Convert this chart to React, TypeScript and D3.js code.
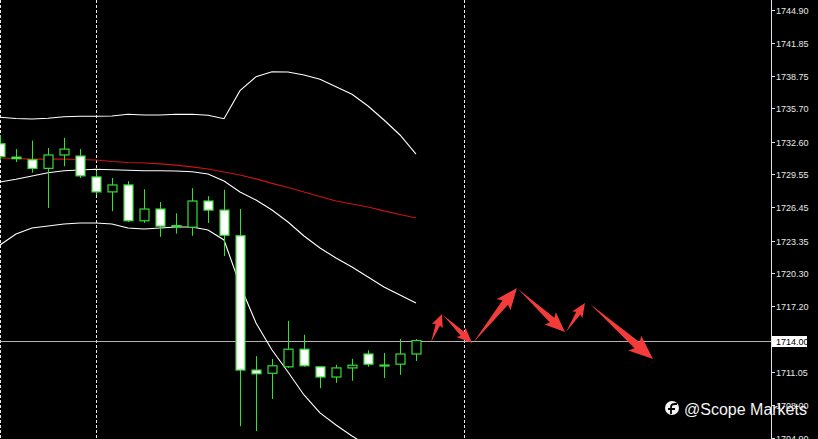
import * as d3 from "d3";

// OHLC per bar (bar index = position on the time axis)
const opens = [1732.4, 1731.15, 1730.9, 1730.1, 1731.35, 1731.25, 1729.3, 1727.9, 1728.55, 1725.2, 1726.3, 1724.75, 1724.6, 1727.05, 1726.2, 1723.8, 1711.25, 1710.95, 1711.55, 1713.2, 1711.55, 1710.6, 1711.45, 1712.75, 1711.72, 1711.8, 1712.75];
const highs = [1733.2, 1731.9, 1732.7, 1732.0, 1732.95, 1731.9, 1729.85, 1729.2, 1728.9, 1728.15, 1726.95, 1725.9, 1728.25, 1727.5, 1728.1, 1726.3, 1712.55, 1712.3, 1715.85, 1714.55, 1711.55, 1711.75, 1712.3, 1713.1, 1712.85, 1714.15, 1714.15];
const lows = [1730.9, 1730.7, 1729.7, 1726.4, 1730.3, 1729.2, 1727.6, 1726.1, 1725.1, 1725.0, 1723.7, 1724.0, 1723.8, 1725.0, 1721.9, 1706.0, 1705.55, 1708.55, 1711.45, 1711.55, 1709.55, 1710.05, 1710.25, 1711.55, 1710.5, 1710.8, 1712.1];
const closes = [1731.2, 1731.0, 1730.1, 1731.35, 1731.9, 1729.4, 1727.9, 1728.55, 1725.2, 1726.3, 1724.7, 1724.7, 1727.05, 1726.2, 1723.85, 1711.25, 1710.9, 1711.65, 1713.2, 1711.65, 1710.6, 1711.45, 1711.7, 1711.8, 1711.7, 1712.75, 1714.0];

// Bollinger bands
const bbUpper = [1734.87, 1734.76, 1734.71, 1734.78, 1734.93, 1734.97, 1734.97, 1734.99, 1735.15, 1735.09, 1735.09, 1735.15, 1735.15, 1735.06, 1734.74, 1737.36, 1738.67, 1739.13, 1739.11, 1738.83, 1738.42, 1737.73, 1737.02, 1735.93, 1734.62, 1733.22, 1731.44];
const bbMiddle = [1728.83, 1729.08, 1729.39, 1729.69, 1729.88, 1729.95, 1730.01, 1729.97, 1729.92, 1729.88, 1729.88, 1729.85, 1729.79, 1729.57, 1728.92, 1727.89, 1727.14, 1726.21, 1725.09, 1723.78, 1722.66, 1721.72, 1720.88, 1719.95, 1719.01, 1718.26, 1717.52];
const bbLower = [1722.94, 1723.97, 1724.53, 1724.71, 1724.9, 1724.99, 1724.99, 1724.9, 1724.53, 1724.43, 1724.53, 1724.62, 1724.62, 1724.34, 1723.41, 1719.2, 1715.65, 1713.12, 1711.07, 1708.92, 1707.24, 1706.11, 1705.09, 1704.15, 1703.59, 1703.31, 1703.59];

// slow moving average (red)
const maSlow = [1731.07, 1731.02, 1730.97, 1730.97, 1730.97, 1730.93, 1730.88, 1730.74, 1730.65, 1730.6, 1730.51, 1730.41, 1730.23, 1730.04, 1729.76, 1729.48, 1729.11, 1728.69, 1728.31, 1727.89, 1727.47, 1727.05, 1726.77, 1726.49, 1726.12, 1725.79, 1725.46];

const priceTicks = ["1744.90", "1741.85", "1738.75", "1735.70", "1732.60", "1729.55", "1726.45", "1723.35", "1720.30", "1717.20", "1711.05", "1708.00", "1704.90"];
const bidPrice = 1714.0;
const separators = [0, 6, 29];

// projected path drawn as arrows: [bar, price] start -> end
const arrowFrom: [number, number][] = [[26.94, 1713.87], [27.69, 1716.4], [29.56, 1713.78], [32.38, 1718.83], [35.38, 1714.81], [36.88, 1717.42]];
const arrowTo: [number, number][] = [[27.63, 1716.49], [29.5, 1713.78], [32.31, 1718.92], [35.31, 1714.81], [36.56, 1717.52], [40.81, 1712.28]];

const W = 818;
const H = 439;
const plotRight = 771;

const x = d3.scaleLinear().domain([0, 48.1875]).range([0, plotRight]);
const y = d3.scaleLinear().domain([1704.9, 1744.9]).range([438, 10]);

const green = "#35e035";

function arrowPath(a: [number, number], b: [number, number]) {
  const x0 = x(a[0]), y0 = y(a[1]);
  const x1 = x(b[0]), y1 = y(b[1]);
  const L = Math.hypot(x1 - x0, y1 - y0);
  const ux = (x1 - x0) / L, uy = (y1 - y0) / L;
  const nx = -uy, ny = ux;
  const headLen = 6 + 0.18 * L;
  const headW = 0.42 * headLen + 1;
  const shaftW = headW * 0.4;
  const bx = x1 - ux * headLen, by = y1 - uy * headLen;
  const back = headLen * 0.15;
  const pts = [
    [x0, y0],
    [bx + nx * shaftW, by + ny * shaftW],
    [bx - ux * back + nx * headW, by - uy * back + ny * headW],
    [x1, y1],
    [bx - ux * back - nx * headW, by - uy * back - ny * headW],
    [bx - nx * shaftW, by - ny * shaftW],
  ];
  return "M" + pts.map((p) => p.join(",")).join("L") + "Z";
}

export default function App() {
  const line = d3
    .line<number>()
    .x((_, i) => x(i))
    .y((d) => y(d));

  return (
    <svg
      width={W}
      height={H}
      style={{ position: "absolute", left: 0, top: 0, display: "block", background: "#000" }}
    >
      <defs>
        <clipPath id="plot">
          <rect x={0} y={0} width={plotRight} height={H} />
        </clipPath>
      </defs>
      <rect width={W} height={H} fill="#000" />

      <g clipPath="url(#plot)">
        {separators.map((s) => (
          <line key={s} x1={x(s) + 0.5} x2={x(s) + 0.5} y1={0} y2={H} stroke="#e8e8e8" strokeDasharray="3,2" />
        ))}

        <line x1={0} x2={plotRight} y1={Math.round(y(bidPrice)) + 0.5} y2={Math.round(y(bidPrice)) + 0.5} stroke="#b4b4b4" />

        <path d={line(bbUpper) ?? ""} fill="none" stroke="#fff" strokeWidth={1.1} />
        <path d={line(bbMiddle) ?? ""} fill="none" stroke="#fff" strokeWidth={1.1} />
        <path d={line(bbLower) ?? ""} fill="none" stroke="#fff" strokeWidth={1.1} />
        <path d={line(maSlow) ?? ""} fill="none" stroke="#c81414" strokeWidth={1.2} />

        {opens.map((o, i) => {
          const c = closes[i];
          const cx = Math.round(x(i)) + 0.5;
          const top = y(Math.max(o, c));
          const bot = y(Math.min(o, c));
          const bear = c < o;
          return (
            <g key={i}>
              <line x1={cx} x2={cx} y1={y(highs[i])} y2={y(lows[i])} stroke={green} />
              <rect
                x={cx - 4.5}
                y={top}
                width={9}
                height={Math.max(1, bot - top)}
                fill={bear ? "#fff" : "#000"}
                stroke={green}
                strokeWidth={1.2}
              />
            </g>
          );
        })}

        {arrowFrom.map((a, i) => (
          <path key={i} d={arrowPath(a, arrowTo[i])} fill="#f23c3c" />
        ))}
      </g>

      {/* price axis */}
      <line x1={plotRight + 0.5} x2={plotRight + 0.5} y1={0} y2={H} stroke="#e0e0e0" />
      {priceTicks.map((t) => (
        <g key={t} transform={`translate(${plotRight},${Math.round(y(+t)) + 0.5})`}>
          <line x1={0} x2={4} stroke="#e0e0e0" />
          <text x={5} dy="0.35em" fill="#e8e8e8" fontSize={9} fontFamily="Liberation Sans, Arial, sans-serif">
            {t}
          </text>
        </g>
      ))}
      <g transform={`translate(${plotRight},${Math.round(y(bidPrice)) + 0.5})`}>
        <rect x={1} y={-5.5} width={35} height={11} fill="#fff" />
        <text x={5} dy="0.35em" fill="#000" fontSize={9} fontFamily="Liberation Sans, Arial, sans-serif">
          {bidPrice.toFixed(2)}
        </text>
      </g>

      {/* watermark */}
      <g transform="translate(672,408)">
        <circle r={7} fill="#f4f4f4" />
        <path d="M-1,6 L-1,-1 Q-1,-4 3,-4 L5,-4 M-4,1 L3,1" stroke="#000" strokeWidth={1.8} fill="none" />
      </g>
      <text x={684} y={415} fill="#f4f4f4" fontSize={16} fontFamily="Liberation Sans, Arial, sans-serif">
        @Scope Markets
      </text>
    </svg>
  );
}
